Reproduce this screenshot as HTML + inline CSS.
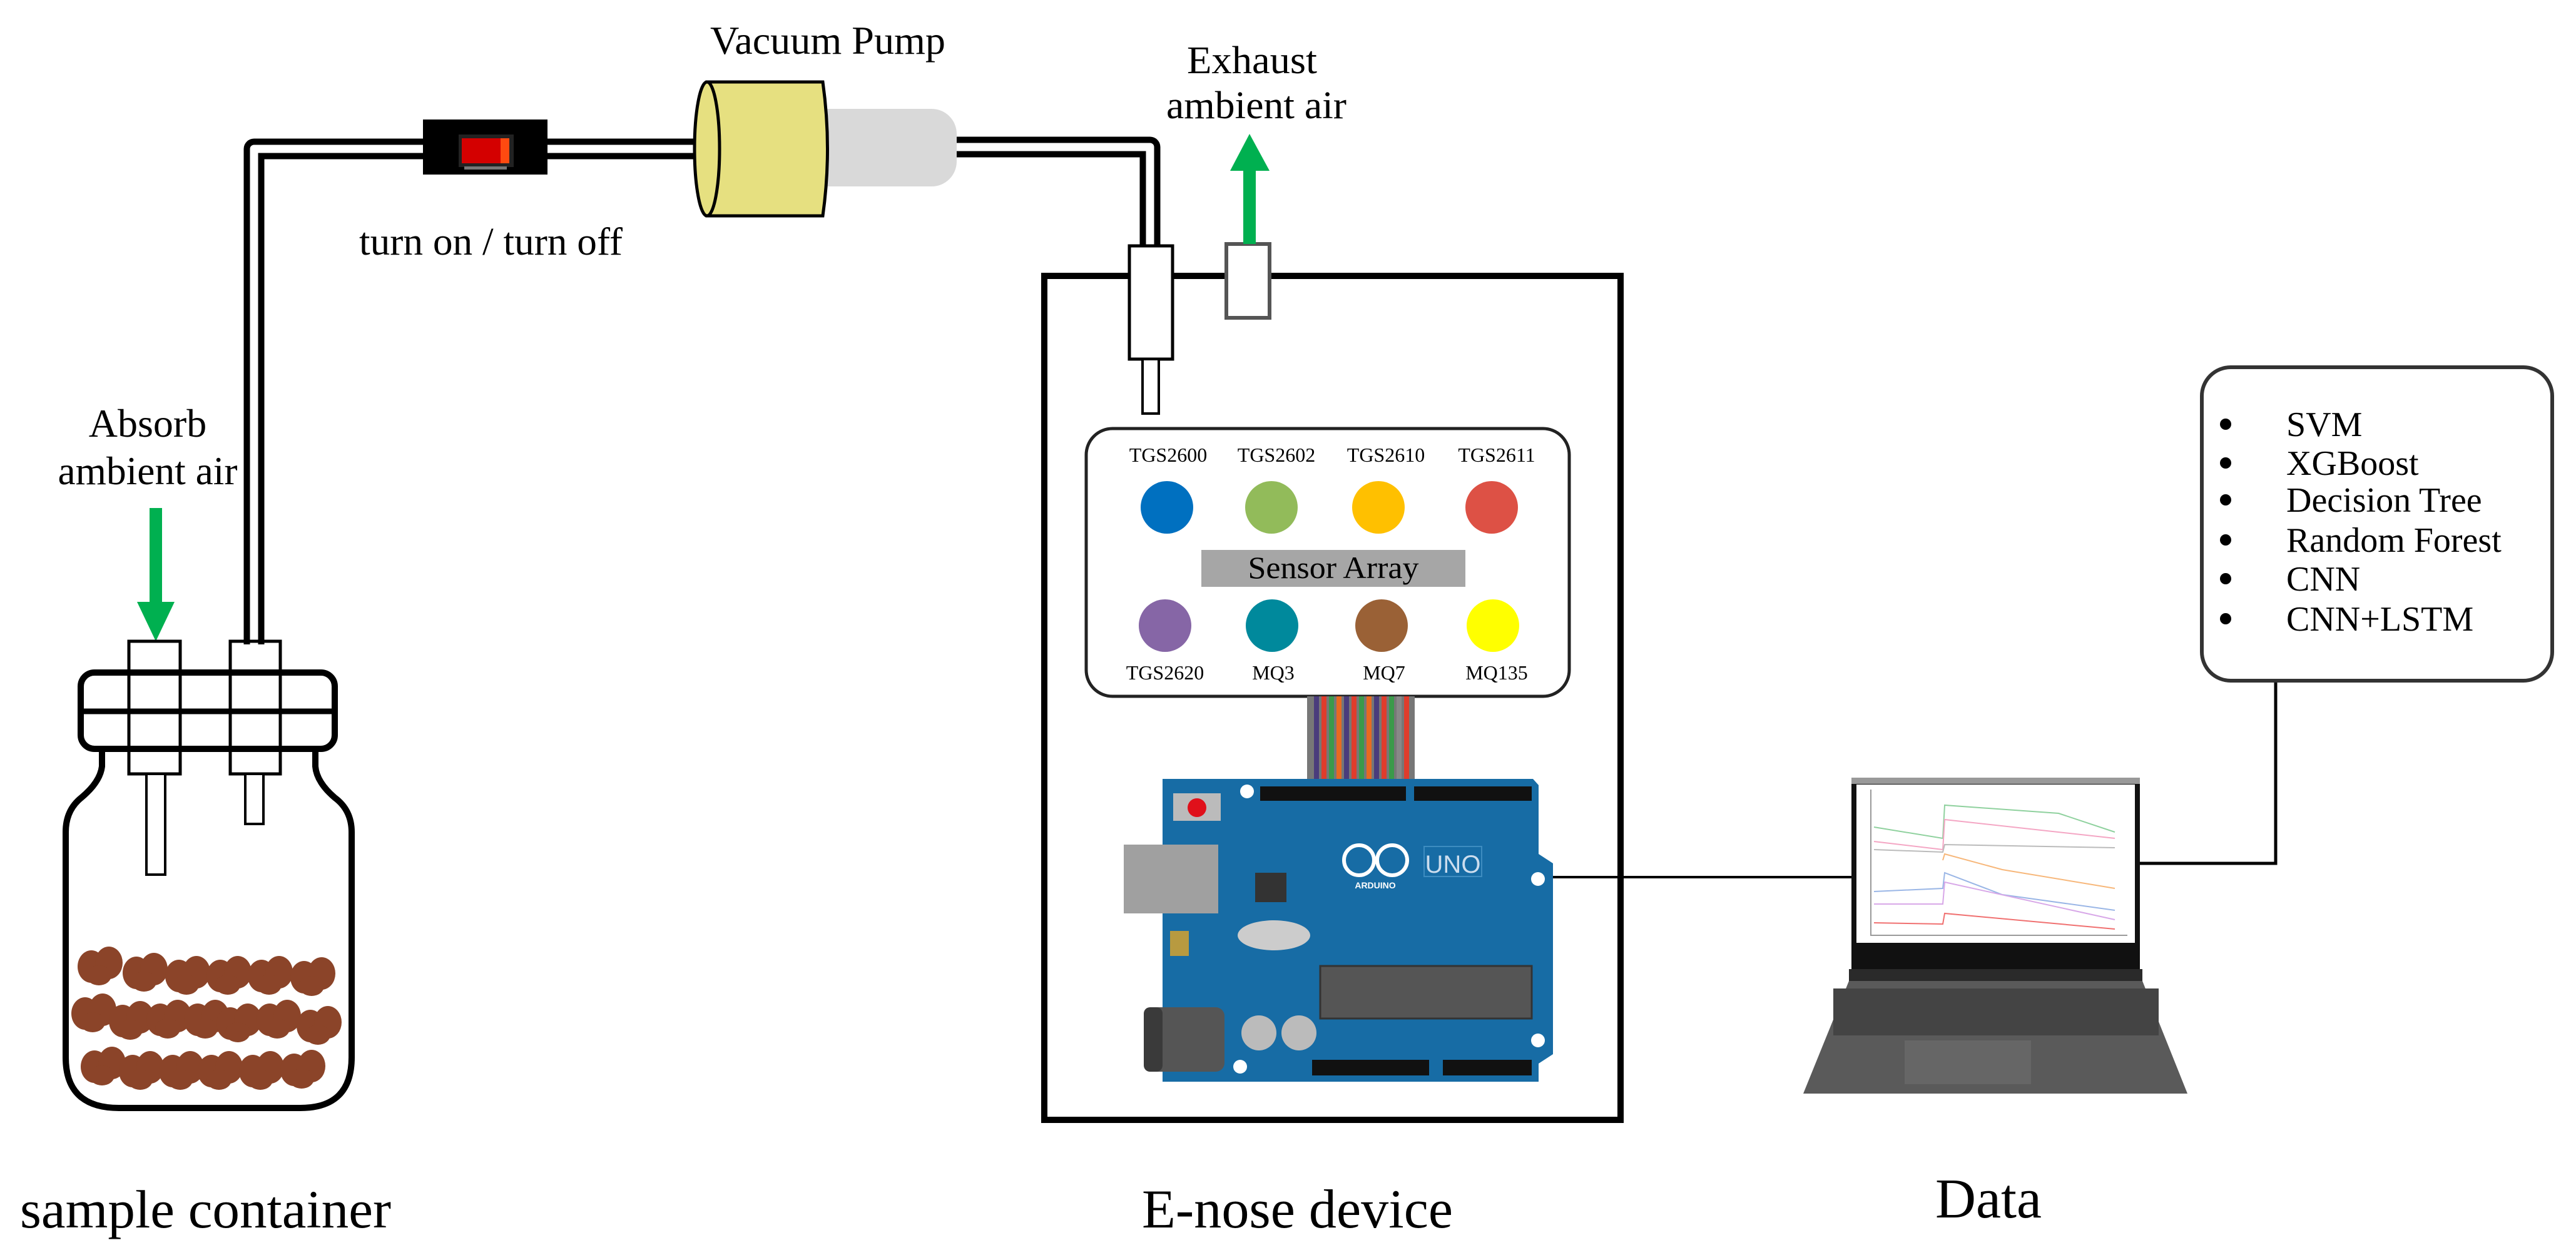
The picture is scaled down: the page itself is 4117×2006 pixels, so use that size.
<!DOCTYPE html>
<html><head><meta charset="utf-8"><style>html,body{margin:0;padding:0;background:#fff}svg{display:block}</style></head>
<body>
<svg width="4117" height="2006" viewBox="0 0 4117 2006" xmlns="http://www.w3.org/2000/svg" font-family="'Liberation Serif', serif">
<defs>
<g id="b"><ellipse cx="-14" cy="0" rx="22" ry="26"/><ellipse cx="14" cy="-6" rx="22" ry="26"/><ellipse cx="-2" cy="14" rx="20" ry="16"/></g>
</defs>
<rect width="4117" height="2006" fill="#fff"/>
<!-- tubes -->
<g fill="none" stroke-linejoin="round">
<path d="M676 238 H406 V1030" stroke="#000" stroke-width="33"/>
<path d="M676 238 H406 V1030" stroke="#fff" stroke-width="13"/>
<path d="M875 238 H1115" stroke="#000" stroke-width="33"/>
<path d="M875 238 H1115" stroke="#fff" stroke-width="13"/>
<path d="M1525 235 H1838 V395" stroke="#000" stroke-width="33"/>
<path d="M1525 235 H1838 V395" stroke="#fff" stroke-width="13"/>
</g>
<!-- switch -->
<rect x="676" y="191" width="199" height="88" fill="#000"/>
<rect x="733" y="215" width="88" height="52" fill="#222"/>
<rect x="738" y="221" width="76" height="40" fill="#d40000"/>
<rect x="800" y="221" width="14" height="40" fill="#ff4a10"/>
<rect x="742" y="266" width="68" height="5" fill="#777"/>
<!-- pump -->
<rect x="1310" y="174" width="219" height="124" rx="40" fill="#d9d9d9"/>
<rect x="1300" y="174" width="60" height="124" fill="#d9d9d9"/>
<path d="M1130 131 H1315 Q1330 238 1315 345 H1130 Z" fill="#e6e080" stroke="#000" stroke-width="5"/>
<ellipse cx="1130" cy="238" rx="20" ry="107" fill="#e6e080" stroke="#000" stroke-width="5"/>
<text x="1135" y="86" font-size="64" textLength="376" lengthAdjust="spacingAndGlyphs">Vacuum Pump</text>
<text x="574" y="407" font-size="62" textLength="421" lengthAdjust="spacingAndGlyphs">turn on / turn off</text>
<!-- absorb -->
<text x="236" y="698" font-size="64" text-anchor="middle">Absorb</text>
<text x="236" y="774" font-size="64" text-anchor="middle" textLength="287" lengthAdjust="spacingAndGlyphs">ambient air</text>
<rect x="239" y="812" width="20" height="155" fill="#00b050"/>
<polygon points="219,962 279,962 249,1025" fill="#00b050"/>
<!-- jar -->
<path d="M163 1197 V1225 Q160 1250 130 1275 Q105 1295 105 1330 V1690 Q105 1771 190 1771 H480 Q562 1771 562 1690 V1330 Q562 1295 535 1275 Q506 1250 504 1225 V1197" fill="#fff" stroke="#000" stroke-width="10"/>
<rect x="129" y="1075" width="406" height="122" rx="22" fill="#fff" stroke="#000" stroke-width="10"/>
<line x1="129" y1="1137" x2="535" y2="1137" stroke="#000" stroke-width="9"/>
<rect x="206" y="1025" width="82" height="212" fill="none" stroke="#000" stroke-width="5"/>
<rect x="368" y="1025" width="80" height="212" fill="none" stroke="#000" stroke-width="5"/>
<rect x="234" y="1237" width="30" height="161" fill="#fff" stroke="#000" stroke-width="4"/>
<rect x="392" y="1237" width="29" height="80" fill="#fff" stroke="#000" stroke-width="4"/>
<g fill="#8b4429">
<use href="#b" x="160" y="1545"/><use href="#b" x="232" y="1555"/><use href="#b" x="300" y="1560"/><use href="#b" x="366" y="1560"/><use href="#b" x="432" y="1560"/><use href="#b" x="500" y="1562"/>
<use href="#b" x="150" y="1620"/><use href="#b" x="210" y="1632"/><use href="#b" x="270" y="1630"/><use href="#b" x="330" y="1630"/><use href="#b" x="382" y="1636"/><use href="#b" x="445" y="1630"/><use href="#b" x="510" y="1640"/>
<use href="#b" x="165" y="1705"/><use href="#b" x="226" y="1712"/><use href="#b" x="290" y="1712"/><use href="#b" x="352" y="1712"/><use href="#b" x="418" y="1712"/><use href="#b" x="484" y="1710"/>
</g>
<text x="32" y="1962" font-size="86" textLength="593" lengthAdjust="spacingAndGlyphs">sample container</text>
<!-- enose box -->
<rect x="1669" y="441" width="921" height="1349" fill="none" stroke="#000" stroke-width="10"/>
<rect x="1805" y="393" width="69" height="181" fill="#fff" stroke="#000" stroke-width="5"/>
<rect x="1826" y="574" width="26" height="87" fill="#fff" stroke="#000" stroke-width="4"/>
<rect x="1960" y="390" width="69" height="118" fill="#fff" stroke="#555" stroke-width="6"/>
<rect x="1987" y="270" width="20" height="120" fill="#00b050"/>
<polygon points="1966,273 2029,273 1997,214" fill="#00b050"/>
<text x="2001" y="117" font-size="62" text-anchor="middle" textLength="208" lengthAdjust="spacingAndGlyphs">Exhaust</text>
<text x="2008" y="189" font-size="62" text-anchor="middle" textLength="288" lengthAdjust="spacingAndGlyphs">ambient air</text>
<!-- sensor panel -->
<rect x="1736" y="685" width="772" height="428" rx="42" fill="#fff" stroke="#222" stroke-width="5"/>
<g font-size="32" text-anchor="middle">
<text x="1867" y="738">TGS2600</text><text x="2040" y="738">TGS2602</text><text x="2215" y="738">TGS2610</text><text x="2392" y="738">TGS2611</text>
<text x="1862" y="1086">TGS2620</text><text x="2035" y="1086">MQ3</text><text x="2212" y="1086">MQ7</text><text x="2392" y="1086">MQ135</text>
</g>
<circle cx="1865" cy="811" r="42" fill="#0070c0"/><circle cx="2032" cy="811" r="42" fill="#92bb5a"/><circle cx="2203" cy="811" r="42" fill="#ffc000"/><circle cx="2384" cy="811" r="42" fill="#dd5145"/>
<circle cx="1862" cy="1000" r="42" fill="#8666a6"/><circle cx="2033" cy="1000" r="42" fill="#00899c"/><circle cx="2208" cy="1000" r="42" fill="#9a6136"/><circle cx="2386" cy="1000" r="42" fill="#ffff00"/>
<rect x="1920" y="879" width="422" height="59" fill="#a6a6a6"/>
<text x="2131" y="924" font-size="50" text-anchor="middle" textLength="273" lengthAdjust="spacingAndGlyphs">Sensor Array</text>
<!-- ribbon -->
<g>
<rect x="2089" y="1113" width="172" height="135" fill="#777"/>
<rect x="2100" y="1113" width="8" height="135" fill="#4a3c7c"/><rect x="2112" y="1113" width="8" height="135" fill="#e03c2c"/><rect x="2124" y="1113" width="8" height="135" fill="#3a9a4a"/><rect x="2136" y="1113" width="8" height="135" fill="#e86a20"/><rect x="2148" y="1113" width="8" height="135" fill="#4a3c7c"/><rect x="2160" y="1113" width="8" height="135" fill="#e03c2c"/><rect x="2172" y="1113" width="8" height="135" fill="#3a9a4a"/><rect x="2184" y="1113" width="8" height="135" fill="#e86a20"/><rect x="2196" y="1113" width="8" height="135" fill="#4a3c7c"/><rect x="2208" y="1113" width="8" height="135" fill="#e03c2c"/><rect x="2220" y="1113" width="8" height="135" fill="#3a9a4a"/><rect x="2232" y="1113" width="8" height="135" fill="#888"/><rect x="2244" y="1113" width="8" height="135" fill="#e03c2c"/>
</g>
<!-- arduino -->
<path d="M1858 1245 H2450 L2459 1255 V1365 L2482 1380 V1685 L2459 1700 V1729 H1858 Z" fill="#176ca5"/>
<rect x="1796" y="1350" width="151" height="110" fill="#a0a0a0"/>
<rect x="1828" y="1610" width="129" height="103" rx="14" fill="#555"/>
<rect x="1828" y="1610" width="30" height="103" rx="10" fill="#3a3a3a"/>
<rect x="2014" y="1257" width="233" height="23" fill="#111"/><rect x="2260" y="1257" width="188" height="23" fill="#111"/>
<rect x="2097" y="1694" width="187" height="25" fill="#111"/><rect x="2306" y="1694" width="142" height="25" fill="#111"/>
<rect x="2110" y="1544" width="338" height="84" fill="#555" stroke="#333" stroke-width="3"/>
<ellipse cx="2036" cy="1495" rx="58" ry="24" fill="#ccc"/>
<rect x="2006" y="1395" width="50" height="47" fill="#333"/>
<rect x="1875" y="1268" width="76" height="44" fill="#bbb"/><circle cx="1913" cy="1291" r="15" fill="#e0101a"/>
<rect x="1870" y="1488" width="30" height="40" fill="#b89a40"/>
<circle cx="2012" cy="1651" r="28" fill="#bbb"/><circle cx="2076" cy="1651" r="28" fill="#bbb"/>
<circle cx="1993" cy="1265" r="11" fill="#fff"/><circle cx="2458" cy="1405" r="11" fill="#fff"/><circle cx="2458" cy="1663" r="11" fill="#fff"/><circle cx="1982" cy="1705" r="11" fill="#fff"/>
<g fill="none" stroke="#fff" stroke-width="6"><circle cx="2172" cy="1375" r="24"/><circle cx="2225" cy="1375" r="24"/></g>
<rect x="2276" y="1353" width="92" height="48" fill="none" stroke="#3d8cc0" stroke-width="2"/>
<text x="2322" y="1395" font-family="'Liberation Sans', sans-serif" font-size="40" fill="#cde" text-anchor="middle">UNO</text>
<text x="2198" y="1420" font-family="'Liberation Sans', sans-serif" font-size="14" fill="#fff" text-anchor="middle" font-weight="bold">ARDUINO</text>
<!-- connectors -->
<line x1="2482" y1="1402" x2="2962" y2="1402" stroke="#000" stroke-width="4"/>
<polyline points="3420,1380 3637,1380 3637,1090" fill="none" stroke="#000" stroke-width="5"/>
<text x="1825" y="1962" font-size="88" textLength="497" lengthAdjust="spacingAndGlyphs">E-nose device</text>
<!-- laptop -->
<rect x="2959" y="1243" width="461" height="306" fill="#111"/>
<rect x="2959" y="1243" width="461" height="10" fill="#999"/>
<rect x="2967" y="1254" width="445" height="253" fill="#fff"/>
<g fill="none" stroke-width="2">
<polyline points="2995,1322 3105,1340 3108,1287 3290,1300 3380,1330" stroke="#8fd19e"/>
<polyline points="2995,1345 3105,1358 3108,1310 3380,1340" stroke="#f4a6c4"/>
<polyline points="2995,1358 3105,1362 3108,1350 3380,1355" stroke="#bbb"/>
<polyline points="3105,1375 3108,1365 3200,1390 3380,1420" stroke="#f7b77a"/>
<polyline points="2995,1425 3105,1420 3108,1395 3200,1430 3380,1455" stroke="#9ab6e6"/>
<polyline points="2995,1445 3105,1445 3108,1410 3380,1470" stroke="#d8a8e8"/>
<polyline points="2995,1475 3105,1477 3108,1460 3380,1485" stroke="#f07070"/>
<polyline points="2990,1262 2990,1495 3400,1495" stroke="#999"/>
</g>
<rect x="2955" y="1549" width="469" height="20" fill="#2a2a2a"/>
<polygon points="2955,1568 3424,1568 3496,1748 2882,1748" fill="#5a5a5a"/>
<rect x="2930" y="1580" width="520" height="75" fill="#444"/>
<rect x="3044" y="1663" width="202" height="70" fill="#666"/>
<text x="3093" y="1946" font-size="90" textLength="170" lengthAdjust="spacingAndGlyphs">Data</text>
<!-- ML box -->
<rect x="3519" y="587" width="560" height="501" rx="46" fill="#fff" stroke="#333" stroke-width="6"/>
<g font-size="56">
<circle cx="3557" cy="678" r="9"/><text x="3654" y="697">SVM</text>
<circle cx="3557" cy="740" r="9"/><text x="3654" y="759">XGBoost</text>
<circle cx="3557" cy="799" r="9"/><text x="3654" y="818">Decision Tree</text>
<circle cx="3557" cy="863" r="9"/><text x="3654" y="882">Random Forest</text>
<circle cx="3557" cy="925" r="9"/><text x="3654" y="944">CNN</text>
<circle cx="3557" cy="989" r="9"/><text x="3654" y="1008">CNN+LSTM</text>
</g>
</svg>
</body></html>
